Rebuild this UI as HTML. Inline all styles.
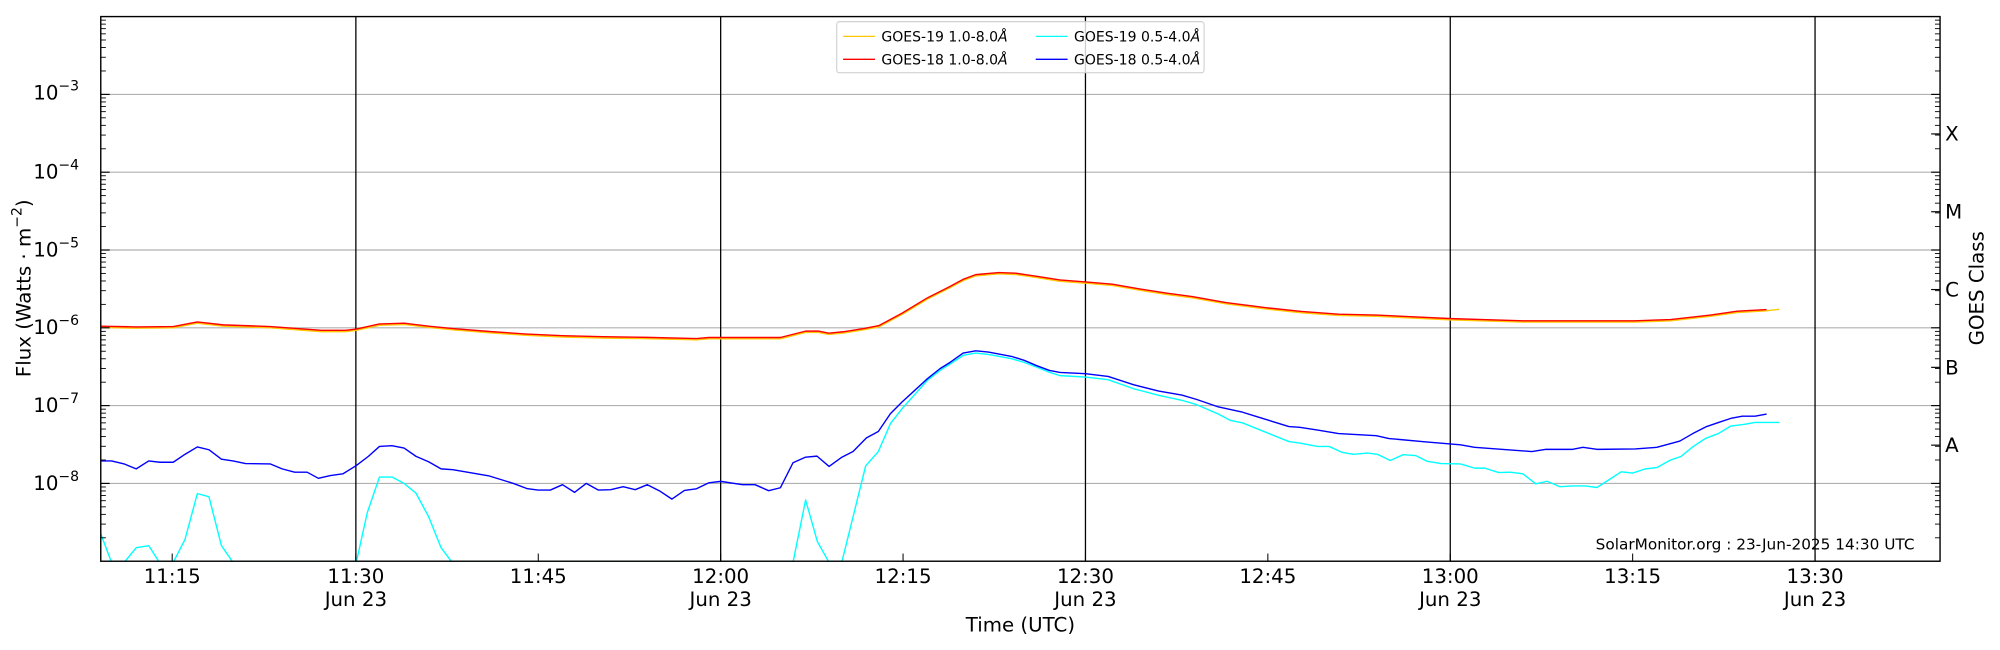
<!DOCTYPE html>
<html><head><meta charset="utf-8"><style>
html,body{margin:0;padding:0;background:#fff;}
svg{display:block;}
text{font-family:"DejaVu Sans","Liberation Sans",sans-serif;fill:#000;}
</style></head><body>
<svg id="s" width="2000" height="650" viewBox="0 0 1568 509.6" xmlns="http://www.w3.org/2000/svg">
<defs><clipPath id="c"><rect x="79" y="13" width="1442" height="427.5"/></clipPath></defs>
<rect x="0" y="0" width="1568" height="509.6" fill="#fff"/>
<g id="grid"></g>
<g id="series" clip-path="url(#c)"></g>
<g id="ticks"></g>
<rect x="79" y="13" width="1442" height="427" fill="none" stroke="#000" stroke-width="1.1"/>
<g id="legend">
<rect x="656" y="17" width="288" height="40" rx="2" fill="#fff" fill-opacity="0.8" stroke="#ccc" stroke-width="0.8"/>
<line x1="661" y1="28.5" x2="686" y2="28.5" stroke="#ffc800" stroke-width="1"/>
<line x1="661" y1="46.5" x2="686" y2="46.5" stroke="#ff0000" stroke-width="1"/>
<line x1="812" y1="28.5" x2="837" y2="28.5" stroke="#00ffff" stroke-width="1"/>
<line x1="812" y1="46.5" x2="837" y2="46.5" stroke="#0000ff" stroke-width="1"/>
<text x="691" y="32.5" font-size="11">GOES-19 1.0-8.0<tspan font-style="italic">Å</tspan></text>
<text x="691" y="50.5" font-size="11">GOES-18 1.0-8.0<tspan font-style="italic">Å</tspan></text>
<text x="842" y="32.5" font-size="11">GOES-19 0.5-4.0<tspan font-style="italic">Å</tspan></text>
<text x="842" y="50.5" font-size="11">GOES-18 0.5-4.0<tspan font-style="italic">Å</tspan></text>
</g>
<g font-size="15.5" text-anchor="end">
<text x="62" y="78">10<tspan font-size="11" dy="-7">−3</tspan></text>
<text x="62" y="140">10<tspan font-size="11" dy="-7">−4</tspan></text>
<text x="62" y="201">10<tspan font-size="11" dy="-7">−5</tspan></text>
<text x="62" y="262">10<tspan font-size="11" dy="-7">−6</tspan></text>
<text x="62" y="323">10<tspan font-size="11" dy="-7">−7</tspan></text>
<text x="62" y="384">10<tspan font-size="11" dy="-7">−8</tspan></text>
</g>
<g font-size="15.5">
<text x="1525" y="110">X</text>
<text x="1525" y="171.5">M</text>
<text x="1525" y="232.5">C</text>
<text x="1525" y="293.5">B</text>
<text x="1525" y="354.5">A</text>
</g>
<g font-size="15.5" text-anchor="middle">
<text x="135" y="457">11:15</text>
<text x="279" y="457">11:30</text><text x="279" y="475">Jun 23</text>
<text x="422" y="457">11:45</text>
<text x="565" y="457">12:00</text><text x="565" y="475">Jun 23</text>
<text x="708" y="457">12:15</text>
<text x="851" y="457">12:30</text><text x="851" y="475">Jun 23</text>
<text x="994" y="457">12:45</text>
<text x="1137" y="457">13:00</text><text x="1137" y="475">Jun 23</text>
<text x="1280" y="457">13:15</text>
<text x="1423" y="457">13:30</text><text x="1423" y="475">Jun 23</text>
<text x="800" y="495">Time (UTC)</text>
<text transform="translate(24,226) rotate(-90)">Flux (Watts · m<tspan font-size="11" dy="-7">−2</tspan><tspan dy="7">)</tspan></text>
<text transform="translate(1555,226) rotate(-90)">GOES Class</text>
</g>
<text x="1501" y="431" font-size="12" text-anchor="end">SolarMonitor.org : 23-Jun-2025 14:30 UTC</text>
</svg>
<script>
(function(){
var NS="http://www.w3.org/2000/svg";
function el(p,t,a){var e=document.createElementNS(NS,t);for(var k in a)e.setAttribute(k,a[k]);p.appendChild(e);return e;}
var g=document.getElementById("grid"),tk=document.getElementById("ticks"),se=document.getElementById("series");
function Y(l){return 257-(l+6)*61;}
for(var d=-8;d<=-3;d++){el(g,"line",{x1:79,x2:1521,y1:Y(d),y2:Y(d),stroke:"#b0b0b0","stroke-width":0.9});}
[279,565,851,1137,1423].forEach(function(x){el(g,"line",{x1:x,x2:x,y1:13,y2:440,stroke:"#000","stroke-width":1});});
for(var d=-9;d<=-2;d++){
 var y=Y(d);
 if(d>-9&&d<-2){el(tk,"line",{x1:79,x2:86,y1:y,y2:y,stroke:"#000","stroke-width":0.9});el(tk,"line",{x1:1521,x2:1514,y1:y,y2:y,stroke:"#000","stroke-width":0.9});}
 if(d<-2)for(var k=2;k<=9;k++){var yy=Y(d+Math.log10(k));
  el(tk,"line",{x1:79,x2:83,y1:yy,y2:yy,stroke:"#000","stroke-width":0.7});
  el(tk,"line",{x1:1521,x2:1517,y1:yy,y2:yy,stroke:"#000","stroke-width":0.7});}
}
[135,422,708,994,1280].forEach(function(x){el(tk,"line",{x1:x,x2:x,y1:440,y2:434,stroke:"#000","stroke-width":0.8});});
[279,565,851,1137,1423].forEach(function(x){el(tk,"line",{x1:x,x2:x,y1:440,y2:434,stroke:"#000","stroke-width":0.8});});
[105,166,227,288,349].forEach(function(y){el(tk,"line",{x1:1521,x2:1514,y1:y,y2:y,stroke:"#000","stroke-width":0.9});});

var red=[[78.8,255.7],[106.8,256.3],[135.8,256],[154.7,252.4],[175,254.7],[211.8,256],[252,259],[271,259],[279.3,258],[297.5,254],[316.8,253.4],[336,255.7],[355,257.6],[385,260],[413,261.9],[441,263.2],[472.5,264],[507.5,264.5],[546,265.4],[555.8,264.6],[611.8,264.6],[631.6,259.6],[641.5,259.6],[649.7,261.2],[661.2,260.1],[677.7,257.5],[689.2,255.2],[707.3,245.5],[727.1,233.5],[743.6,225.2],[755.1,219],[765,215.3],[783.1,213.7],[796.3,214.2],[812.8,216.6],[830.9,219.5],[851,221],[872.1,222.8],[895.2,226.8],[914.9,229.9],[934.7,232.5],[961,237.2],[994,241.4],[1020.3,244.2],[1049.4,246.3],[1079,247],[1137.9,249.8],[1194,251.5],[1281.7,251.5],[1309.7,250.5],[1341,247],[1362,244],[1385,242.7]];
var yel=red.map(function(p){return [p[0],p[1]+1];});yel.push([1395,242.5]);
var blue=[[78.8,361.4],[87.5,361.4],[97.3,363.7],[106.8,367.6],[116.6,361.4],[125.3,362.4],[135.8,362.4],[145,356.2],[154.7,350.4],[163.8,352.6],[173.6,360],[182.7,361.4],[192.5,363.4],[211.8,363.7],[221.2,367.6],[231,370.2],[240.8,370.2],[249.6,375],[259,372.8],[268.8,371.5],[279.3,365],[288.8,357.8],[297.5,350],[307.3,349.4],[316.8,351.3],[326.2,357.8],[336,362],[345.8,367.6],[355,368.2],[383,373],[402.5,379],[413,383],[421.8,384.2],[431.5,384.2],[441,380],[450.5,386],[459.6,379],[469,384.2],[478.8,383.9],[488.6,381.6],[498,383.9],[507.5,380],[517,384.8],[526.8,391.3],[536.6,384.5],[546,383.2],[555.8,378.5],[565,377.4],[582.1,380],[592,380],[602.6,384.7],[611.8,382.4],[621.7,362.8],[631.6,358.4],[640.5,357.6],[650,365.7],[659.6,358.7],[668.8,354],[679.3,343.3],[688.6,338.3],[698.1,324.3],[707.3,315.1],[717.2,306],[727.1,296.9],[737,289],[745.2,283.9],[755.1,276.8],[765,275],[774.9,276],[793,279.4],[802.9,282.5],[812.8,286.7],[822.8,290.4],[831,292],[851,293],[868.8,295.1],[888.6,301.6],[908.4,306.6],[926.5,309.7],[938,313.1],[954.5,318.8],[974.3,323.2],[984.2,326.3],[1010.5,334.4],[1019,335],[1033.6,337.3],[1049.4,339.9],[1079,341.6],[1089,343.8],[1117,346.4],[1145,348.7],[1156,350.7],[1201,354],[1212,352.3],[1233,352.3],[1241,350.7],[1252,352.3],[1282,352],[1299,350.7],[1317,345.8],[1327,340],[1338,334.4],[1348,331],[1357,328],[1366,326.3],[1376,326.3],[1385,324.6]];
var cyan=[[78.8,418],[87.5,441],[97.3,441],[106.8,429.4],[116.6,427.8],[125,441],[135.8,441],[145,423],[154.7,387],[163.8,389.4],[173.6,427.8],[182.7,441],[279.3,441],[288,401.7],[297.5,374],[307.3,374],[316.8,379],[326,386.5],[336,405],[345.8,429.4],[354.5,441],[621.7,441],[631.6,392],[640.8,424.6],[650,441],[659.9,441],[678.7,365.2],[688.6,354],[698.1,332.1],[707.3,320.3],[727.1,298.2],[737,290.4],[745.2,285.2],[755.1,278.6],[765,276.8],[774.9,277.9],[793,281.2],[802.9,284.1],[812.8,287.8],[822.8,291.9],[831,294.5],[851,295.6],[868.8,297.7],[888.6,304.7],[908.4,309.9],[926.5,313.8],[938,317.2],[954.5,324.3],[964.4,329.5],[974.3,331.6],[1010.5,346.2],[1019,347.4],[1033,350],[1042,350],[1052,354.6],[1061,356.2],[1072,355.2],[1080,356.2],[1090,361],[1100,356.5],[1110,357.2],[1119,361.7],[1130,363.4],[1145,363.7],[1156,367],[1164,367],[1175,370.5],[1184,370.2],[1194,371.5],[1204,379.3],[1213,377.3],[1223,381.6],[1233,381],[1243,381],[1252,382.2],[1261,376.4],[1271,369.9],[1280,370.9],[1290,367.6],[1299,366.6],[1309,361],[1318,357.8],[1327,350.4],[1337,343.8],[1347,340],[1357,334],[1367,332.8],[1376,331.2],[1395,331.2]];
function path(pts,c,w){el(se,"polyline",{points:pts.map(function(p){return p[0]+","+p[1];}).join(" "),fill:"none",stroke:c,"stroke-width":w,"stroke-linejoin":"round"});}
path(yel,"#ffc800",1.1);path(red,"#ff0000",1.1);path(cyan,"#00ffff",1.1);path(blue,"#0000ff",1.1);
})();
</script>
</body></html>
